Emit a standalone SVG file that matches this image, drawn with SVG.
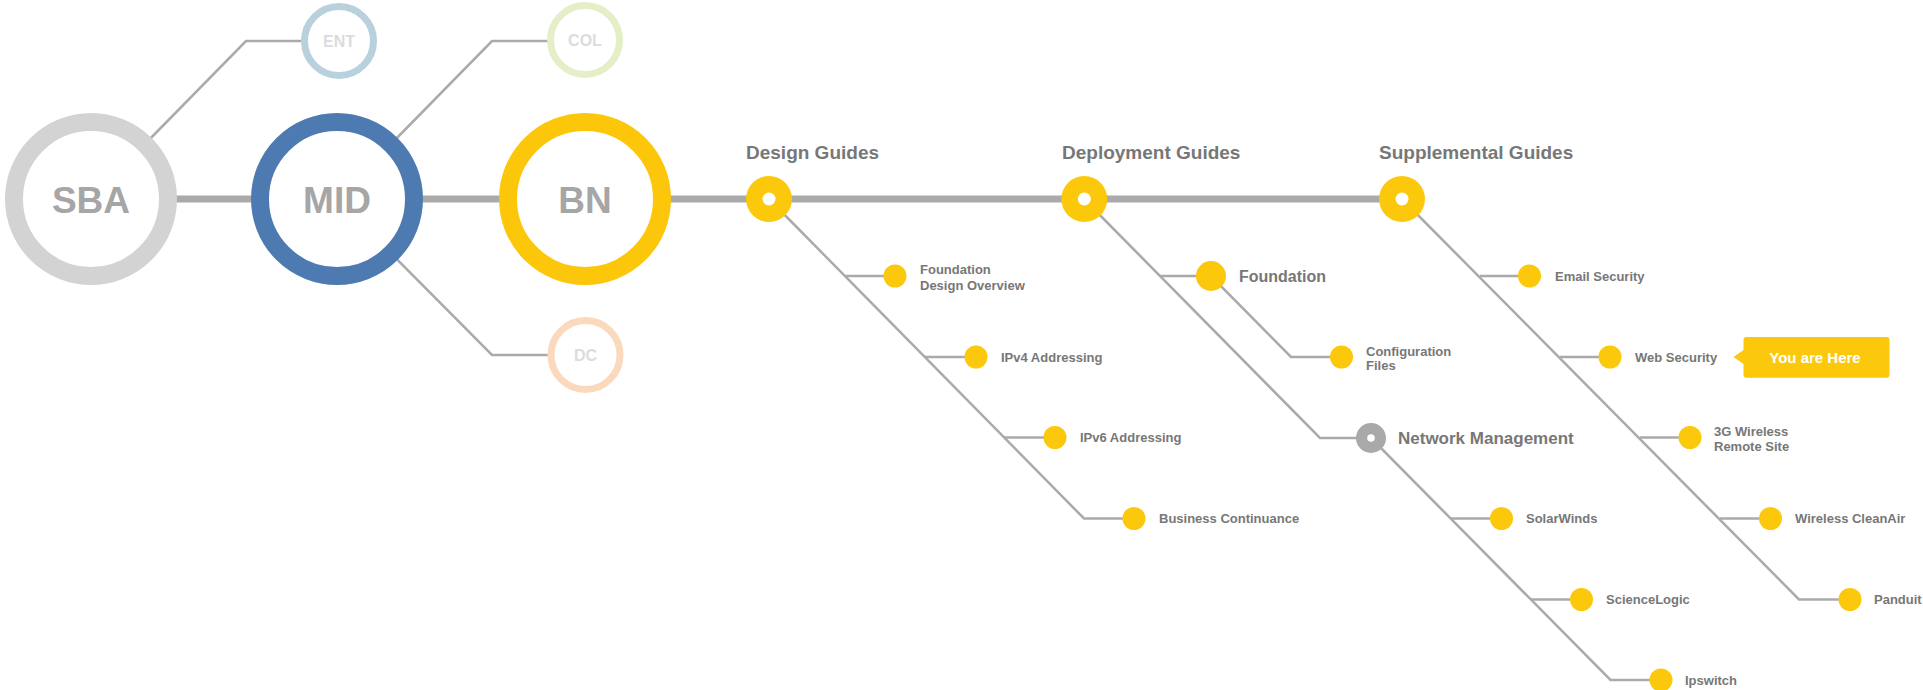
<svg xmlns="http://www.w3.org/2000/svg" width="1923" height="690" viewBox="0 0 1923 690">
<style>
text{font-family:"Liberation Sans",Arial,sans-serif;font-weight:bold}
.big{fill:#a6a6a6;font-size:37px;text-anchor:middle}
.sm{fill:#dcdcdc;font-size:16px;text-anchor:middle}
.hd{fill:#777;font-size:19px}
.lb{fill:#777;font-size:13px}
.lb2{fill:#777;font-size:16px}
.ln{fill:none;stroke:#aaa;stroke-width:2.5}
.main{stroke:#aaa;stroke-width:7}
.dot{fill:#fcc80b}
.hole{fill:#fff}
</style>
<g id="connectors">
<line class="main" x1="91" y1="199" x2="1402" y2="199"/>
<path class="ln" d="M91,199 L246,41 H339"/>
<path class="ln" d="M337,199 L492,41 H585"/>
<path class="ln" d="M337,199 L492,355 H585"/>
<path class="ln" d="M769,199 L1084,518.5 H1134"/>
<path class="ln" d="M845,276 H895 M925,357 H976 M1004,437.5 H1055"/>
<path class="ln" d="M1084,199 L1320,438 H1371"/>
<path class="ln" d="M1160,276 H1211 L1291,357 H1341.5"/>
<path class="ln" d="M1371,438 L1610.5,680 H1661"/>
<path class="ln" d="M1451,518.5 H1501.5 M1531,599.5 H1581.5"/>
<path class="ln" d="M1402,199 L1799,599.5 H1850"/>
<path class="ln" d="M1480,276 H1529.5 M1560,357 H1610 M1640,437.5 H1690 M1720,518.5 H1770.5"/>
</g>
<g id="SBA"><circle cx="91" cy="199" r="77" fill="#fff" stroke="#d3d3d3" stroke-width="18"/><text class="big" x="91" y="213">SBA</text></g>
<g id="MID"><circle cx="337" cy="199" r="77" fill="#fff" stroke="#4e7ab2" stroke-width="18"/><text class="big" x="337" y="213">MID</text></g>
<g id="BN"><circle cx="585" cy="199" r="77" fill="#fff" stroke="#fcc70a" stroke-width="18"/><text class="big" x="585" y="213">BN</text></g>
<g id="ENT"><circle cx="339" cy="41" r="34.5" fill="#fff" stroke="#b9d0dd" stroke-width="7"/><text class="sm" x="339" y="47">ENT</text></g>
<g id="COL"><circle cx="585" cy="40" r="34.5" fill="#fff" stroke="#e4efc8" stroke-width="7"/><text class="sm" x="585" y="46">COL</text></g>
<g id="DC"><circle cx="585.5" cy="355" r="34.5" fill="#fff" stroke="#fad9bd" stroke-width="7"/><text class="sm" x="585.5" y="361">DC</text></g>
<g id="design-guides"><circle class="dot" cx="769" cy="199" r="23"/><circle class="hole" cx="769" cy="199" r="6.5"/><text class="hd" x="746" y="159">Design Guides</text></g>
<g id="deployment-guides"><circle class="dot" cx="1084.3" cy="199" r="23"/><circle class="hole" cx="1084.3" cy="199" r="6.5"/><text class="hd" x="1062" y="159">Deployment Guides</text></g>
<g id="supplemental-guides"><circle class="dot" cx="1402" cy="199" r="23"/><circle class="hole" cx="1402" cy="199" r="6.5"/><text class="hd" x="1379" y="159">Supplemental Guides</text></g>
<g id="foundation-design-overview"><circle class="dot" cx="895" cy="276" r="11.5"/><text class="lb" x="920" y="274">Foundation</text><text class="lb" x="920" y="290">Design Overview</text></g>
<g id="ipv4"><circle class="dot" cx="976" cy="357" r="11.5"/><text class="lb" x="1001" y="361.5">IPv4 Addressing</text></g>
<g id="ipv6"><circle class="dot" cx="1055" cy="437.5" r="11.5"/><text class="lb" x="1080" y="442">IPv6 Addressing</text></g>
<g id="business-continuance"><circle class="dot" cx="1134" cy="518.5" r="11.5"/><text class="lb" x="1159" y="523">Business Continuance</text></g>
<g id="foundation"><circle class="dot" cx="1211" cy="276" r="15"/><text class="lb2" x="1239" y="281.5">Foundation</text></g>
<g id="configuration-files"><circle class="dot" cx="1341.5" cy="357" r="11.5"/><text class="lb" x="1366" y="355.5">Configuration</text><text class="lb" x="1366" y="370">Files</text></g>
<g id="network-management"><circle cx="1371" cy="438" r="15" fill="#a9a9a9"/><circle class="hole" cx="1371" cy="438" r="3.8"/><text class="lb2" x="1398" y="444" style="font-size:17px">Network Management</text></g>
<g id="solarwinds"><circle class="dot" cx="1501.5" cy="518.5" r="11.5"/><text class="lb" x="1526" y="523">SolarWinds</text></g>
<g id="sciencelogic"><circle class="dot" cx="1581.5" cy="599.5" r="11.5"/><text class="lb" x="1606" y="604">ScienceLogic</text></g>
<g id="ipswitch"><circle class="dot" cx="1661" cy="680" r="11.5"/><text class="lb" x="1685" y="684.5">Ipswitch</text></g>
<g id="email-security"><circle class="dot" cx="1529.5" cy="276" r="11.5"/><text class="lb" x="1555" y="280.5">Email Security</text></g>
<g id="web-security"><circle class="dot" cx="1610" cy="357" r="11.5"/><text class="lb" x="1635" y="361.5">Web Security</text></g>
<g id="3g-wireless"><circle class="dot" cx="1690" cy="437.5" r="11.5"/><text class="lb" x="1714" y="436">3G Wireless</text><text class="lb" x="1714" y="450.5">Remote Site</text></g>
<g id="wireless-cleanair"><circle class="dot" cx="1770.5" cy="518.5" r="11.5"/><text class="lb" x="1795" y="523">Wireless CleanAir</text></g>
<g id="panduit"><circle class="dot" cx="1850" cy="599.5" r="11.5"/><text class="lb" x="1874" y="604">Panduit</text></g>
<g id="you-are-here"><path d="M1746.5,337 H1886.5 Q1889.5,337 1889.5,340 V374.8 Q1889.5,377.8 1886.5,377.8 H1746.5 Q1743.5,377.8 1743.5,374.8 V364 L1733.5,357 L1743.5,350 V340 Q1743.5,337 1746.5,337 Z" fill="#fcc80b"/><text x="1815" y="362.5" style="fill:#fff;font-size:15px;text-anchor:middle">You are Here</text></g>
</svg>
